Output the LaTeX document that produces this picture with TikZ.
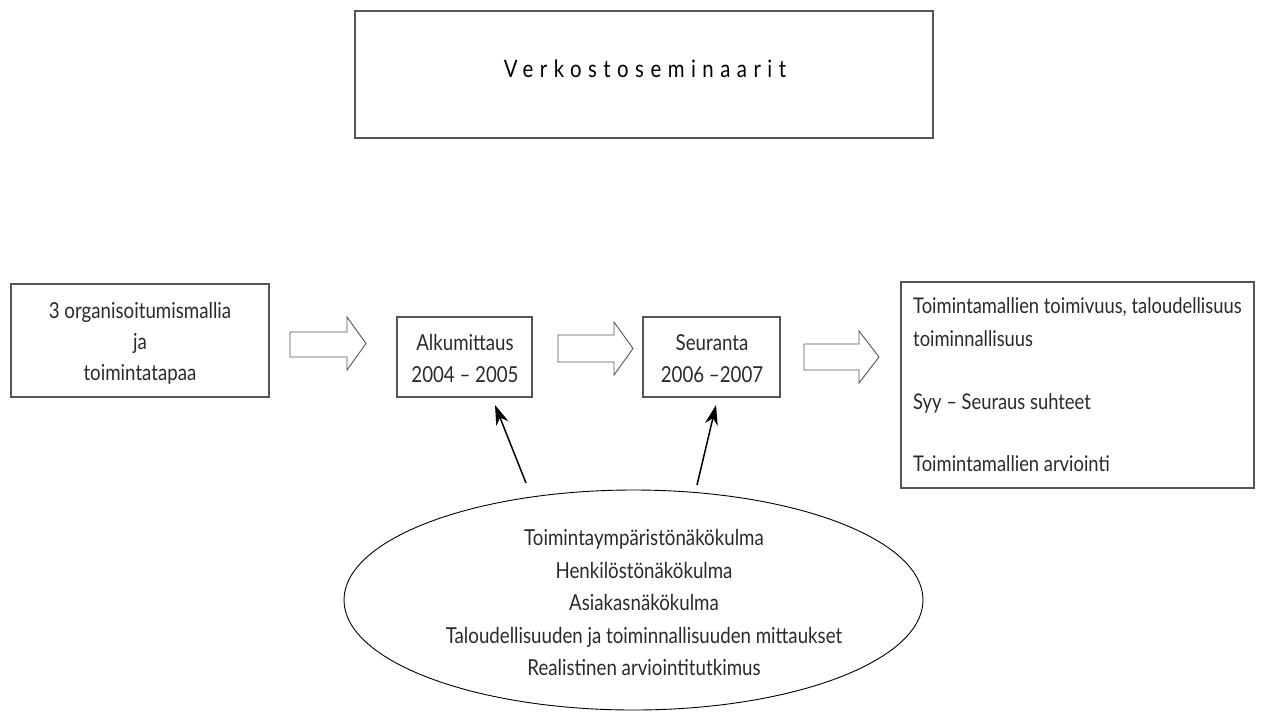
\documentclass[tikz,border=0pt]{standalone}
\usepackage{fontspec}
\setmainfont{Lato}[FakeStretch=0.85]
\newfontfamily\titlef{Lato}[FakeStretch=0.85,LetterSpace=27]
\usetikzlibrary{shapes.geometric,arrows.meta}
\definecolor{boxgray}{HTML}{555555}
\definecolor{txt}{HTML}{2A2A2A}
\tikzset{
  box/.style={draw=boxgray,line width=1.1pt,rectangle,inner sep=0pt},
  lbl/.style={anchor=base,inner sep=0pt,text=txt,font=\fontsize{22}{26}\selectfont},
  lbll/.style={anchor=base west,inner sep=0pt,text=txt,font=\fontsize{21.6}{26}\selectfont},
  blockarrow/.style={draw=boxgray,line width=0.9pt,fill=white},
  pointer/.style={draw=black,line width=1.5pt,-{Stealth[length=20pt,width=13pt]}}
}
\begin{document}
\begin{tikzpicture}[x=1pt,y=-1pt]
\useasboundingbox (0,0) rectangle (1271,713);
% top box
\node[box,minimum width=578pt,minimum height=127pt] (top) at (644,74.5) {};
\node[anchor=base,inner sep=0pt,text=black,font=\titlef\fontsize{24}{28}\selectfont] (toptxt) at (645,77) {Verkostoseminaarit};
% left box
\node[box,minimum width=258pt,minimum height=113pt] (org) at (140,340.5) {};
\node[lbl] (org1) at (140,318) {3 organisoitumismallia};
\node[lbl] (org2) at (140,349) {ja};
\node[lbl] (org3) at (140,380) {toimintatapaa};
% Alkumittaus
\node[box,minimum width=135pt,minimum height=80pt] (alku) at (464.5,357) {};
\node[lbl] (alku1) at (465,350) {Alkumittaus};
\node[lbl] (alku2) at (465,382) {2004 -- 2005};
% Seuranta
\node[box,minimum width=137pt,minimum height=80pt] (seur) at (711.5,357) {};
\node[lbl] (seur1) at (712,350) {Seuranta};
\node[lbl] (seur2) at (712,382) {2006 --2007};
% right box
\node[box,minimum width=353pt,minimum height=206pt] (res) at (1077.5,385) {};
\node[lbll] (res1) at (913,313) {Toimintamallien toimivuus, taloudellisuus};
\node[lbll] (res2) at (913,346) {toiminnallisuus};
\node[lbll] (res3) at (913,409) {Syy -- Seuraus suhteet};
\node[lbll] (res4) at (913,471) {Toimintamallien arviointi};
% block arrows
\draw[blockarrow] (290,332) -- (347,332) -- (347,317) -- (366,343.5) -- (347,370) -- (347,357) -- (290,357) -- cycle;
\draw[blockarrow] (558,335) -- (614,335) -- (614,322) -- (633,348.5) -- (614,375) -- (614,362) -- (558,362) -- cycle;
\draw[blockarrow] (804,344) -- (859,344) -- (859,331) -- (879,357) -- (859,383) -- (859,370) -- (804,370) -- cycle;
% ellipse
\node[draw=black,line width=0.9pt,ellipse,minimum width=579pt,minimum height=220pt,inner sep=0pt] (ell) at (633.5,600) {};
\node[lbl] (e1) at (644,545) {Toimintaympäristönäkökulma};
\node[lbl] (e2) at (644,578) {Henkilöstönäkökulma};
\node[lbl] (e3) at (644,610) {Asiakasnäkökulma};
\node[lbl] (e4) at (644,643) {Taloudellisuuden ja toiminnallisuuden mittaukset};
\node[lbl] (e5) at (644,675) {Realistinen arviointitutkimus};
% pointers
\coordinate (p1s) at (526,483);
\coordinate (p1e) at (495,405);
\coordinate (p2s) at (697,485);
\coordinate (p2e) at (716,405);
\draw[pointer] (p1s) -- (p1e);
\draw[pointer] (p2s) -- (p2e);
\end{tikzpicture}
\end{document}
